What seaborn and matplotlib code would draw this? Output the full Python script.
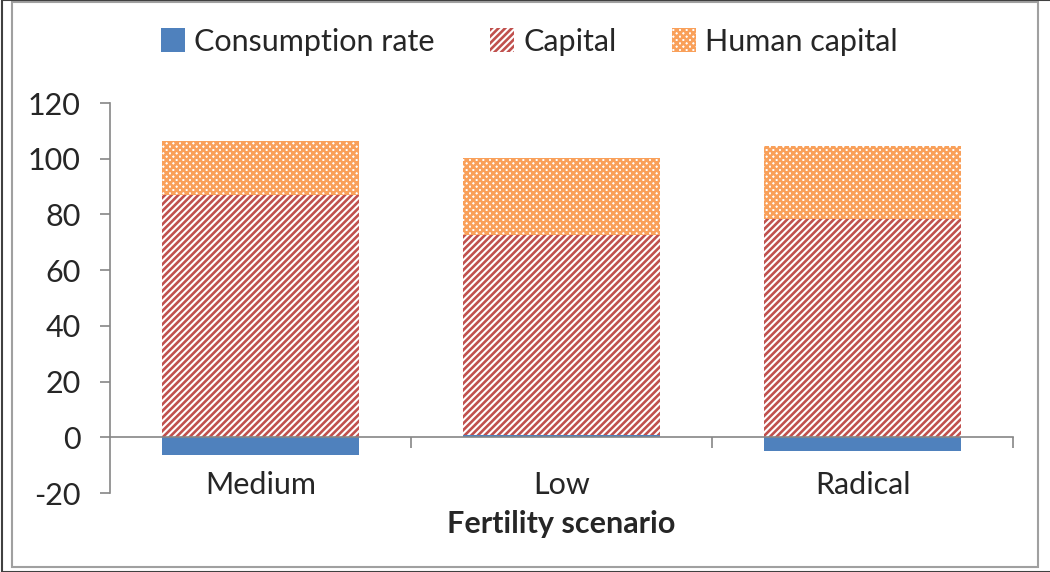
import numpy as np
import pandas as pd
import seaborn as sns
import matplotlib.pyplot as plt
from matplotlib.patches import Patch, Rectangle

# values
scenarios = ['Medium', 'Low', 'Radical']
consumption = [-6.5, 0.8, -5.0]
capital = [87.0, 71.8, 78.5]
human_capital = [19.3, 27.7, 26.2]

sns.set_style('white')
plt.rcParams['font.family'] = ['Lato', 'DejaVu Sans']
plt.rcParams['hatch.linewidth'] = 1.9
plt.rcParams['axes.unicode_minus'] = False

blue = '#4F81BD'
red = '#C0504D'
orange = '#F9A05A'
grey = '#868686'
fs = 22

# positive parts stack on top of a positive consumption value
base = np.maximum(consumption, 0)
cap_top = base + np.array(capital)
hum_top = cap_top + np.array(human_capital)

df = pd.DataFrame({'scenario': scenarios, 'consumption': consumption,
                   'cap_top': cap_top, 'hum_top': hum_top})

fig = plt.figure(figsize=(10.5, 5.72), dpi=100)
ax = fig.add_axes([0.1048, 0.1381, 0.86, 0.6818])

w = 0.655
sns.barplot(data=df, x='scenario', y='hum_top', color='white', saturation=1,
            width=w, linewidth=0, ax=ax)
for p in ax.containers[-1]:
    p.set_hatch('xxxxx')
    p.set_edgecolor(orange)
    p.set_linewidth(0)

sns.barplot(data=df, x='scenario', y='cap_top', color='white', saturation=1,
            width=w, linewidth=0, ax=ax)
for p in ax.containers[-1]:
    p.set_hatch('/////')
    p.set_edgecolor(red)
    p.set_linewidth(0)

sns.barplot(data=df, x='scenario', y='consumption', color=blue, saturation=1,
            width=w, linewidth=0, ax=ax)

ax.set_xlim(-0.5, 2.5)
ax.set_ylim(-20, 120)
ax.set_yticks(range(-20, 121, 20))

for s in ['top', 'right']:
    ax.spines[s].set_visible(False)
ax.spines['left'].set_color(grey)
ax.spines['bottom'].set_color(grey)
ax.spines['bottom'].set_position(('data', 0))
ax.spines['left'].set_linewidth(1.2)
ax.spines['bottom'].set_linewidth(1.2)

ax.tick_params(axis='y', direction='out', length=7, color=grey, width=1.2,
               labelsize=fs, pad=14, left=True)
ax.set_xticks([0, 1, 2])
ax.set_xticklabels(scenarios)
ax.tick_params(axis='x', which='major', length=0, labelsize=fs, pad=24)
ax.set_xticks([0.5, 1.5, 2.5], minor=True)
ax.tick_params(axis='x', which='minor', direction='out', length=8,
               color=grey, width=1.2, bottom=True)

ax.set_xlabel('Fertility scenario', fontsize=fs, fontweight='bold',
              labelpad=8)
ax.set_ylabel('')

handles = [Patch(facecolor=blue, edgecolor=blue, lw=0),
           Patch(facecolor='white', edgecolor=red, hatch='/////', lw=0),
           Patch(facecolor='white', edgecolor=orange, hatch='xxxxx', lw=0)]
fig.legend(handles, ['Consumption rate', 'Capital', 'Human capital'],
           loc='center', bbox_to_anchor=(0.504, 0.927), ncol=3,
           frameon=False, fontsize=fs, handlelength=0.8, handleheight=0.8,
           handletextpad=0.3, columnspacing=1.8)

fig.patches.append(Rectangle((12 / 1050, 5 / 572), 1026 / 1050, 565 / 572,
                             transform=fig.transFigure, fill=False,
                             edgecolor='#A0A0A0', lw=1.5))
fig.patches.append(Rectangle((2 / 1050, 0), 1, 1,
                             transform=fig.transFigure, fill=False,
                             edgecolor='#404040', lw=1.5))

fig.savefig('out.png', dpi=100)
